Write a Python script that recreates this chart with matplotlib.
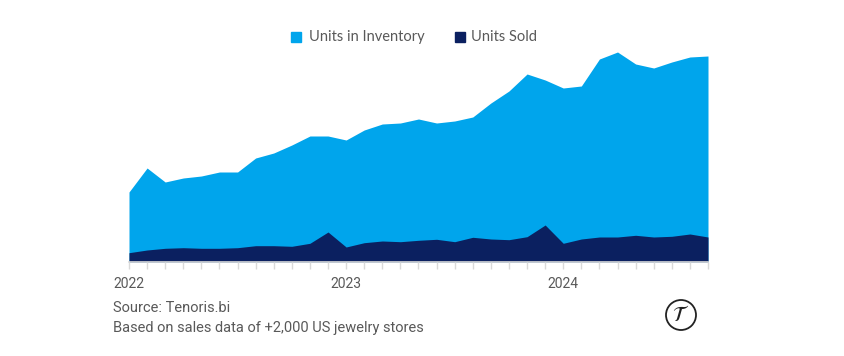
import matplotlib
matplotlib.use("Agg")
import matplotlib.pyplot as plt
from matplotlib.patches import Ellipse, Rectangle
import numpy as np

# monthly values, Jan 2022 .. Sep 2024 (no y-axis in the source, read as relative heights)
months = np.arange(33)
year_ticks = [0, 12, 24]
year_labels = ["2022", "2023", "2024"]

units_inventory = [70, 94, 80, 84, 86, 90, 90, 104, 109, 117, 126, 126,
                   122, 132, 138, 139, 143, 139, 141, 145, 159, 171, 188, 182,
                   174, 176, 203, 210, 198, 194, 200, 205, 206]
units_sold = [9.3, 12, 13.7, 14.3, 13.7, 13.7, 14.3, 16.3, 16.3, 15.7, 18.7, 30,
              15, 19.3, 21, 20.3, 21.7, 22.7, 20.3, 24.7, 23, 22.3, 25.3, 37,
              18.7, 23, 25, 25, 26.7, 25, 25.7, 28, 25]

C_INV = "#00a5ec"
C_SOLD = "#0b2060"
C_TXT = "#595959"
NARROW = ["Roboto", "DejaVu Sans"]

W, H = 845, 356
fig = plt.figure(figsize=(W / 100, H / 100), dpi=100)
ax = fig.add_axes([129 / W, (H - 262) / H, (708 - 129) / W, 222 / H])

ax.fill_between(months, 0, units_inventory, color=C_INV, linewidth=0)
ax.fill_between(months, 0, units_sold, color=C_SOLD, linewidth=0)

ax.set_xlim(0, 32)
ax.set_ylim(0, 222)
for s in ["top", "right", "left"]:
    ax.spines[s].set_visible(False)
ax.spines["bottom"].set_color("#d9d9d9")
ax.spines["bottom"].set_linewidth(1.2)
ax.set_yticks([])
ax.set_xticks(months)
ax.set_xticklabels([year_labels[year_ticks.index(m)] if m in year_ticks else "" for m in months],
                   fontsize=10, color=C_TXT, family=NARROW)
ax.tick_params(axis="x", length=5, width=1, color="#d9d9d9", pad=6)

# legend at the top
leg_y = (H - 37) / H
fig.patches.append(Rectangle((291 / W, (H - 42) / H), 10 / W, 10 / H,
                             transform=fig.transFigure, color=C_INV))
fig.text(309 / W, leg_y, "Units in Inventory", fontsize=10.5, color=C_TXT,
         family="Lato", va="center", ha="left")
fig.patches.append(Rectangle((455 / W, (H - 42) / H), 10 / W, 10 / H,
                             transform=fig.transFigure, color=C_SOLD))
fig.text(471 / W, leg_y, "Units Sold", fontsize=10.5, color=C_TXT,
         family="Lato", va="center", ha="left")

# footer
fig.text(113 / W, (H - 308) / H, "Source: Tenoris.bi", fontsize=10.5, color=C_TXT,
         family=NARROW, va="center", ha="left")
fig.text(113 / W, (H - 328) / H, "Based on sales data of +2,000 US jewelry stores",
         fontsize=10.5, color=C_TXT, family=NARROW, va="center", ha="left")

# logo
fig.patches.append(Ellipse((681 / W, (H - 315) / H), 30 / W, 30 / H, transform=fig.transFigure,
                           facecolor="white", edgecolor="#222222", linewidth=1.3))
fig.text(681 / W, (H - 315) / H, r"$\mathcal{T}$", fontsize=15, color="#222222",
         ha="center", va="center")

fig.savefig("out.png", dpi=100, facecolor="white")
